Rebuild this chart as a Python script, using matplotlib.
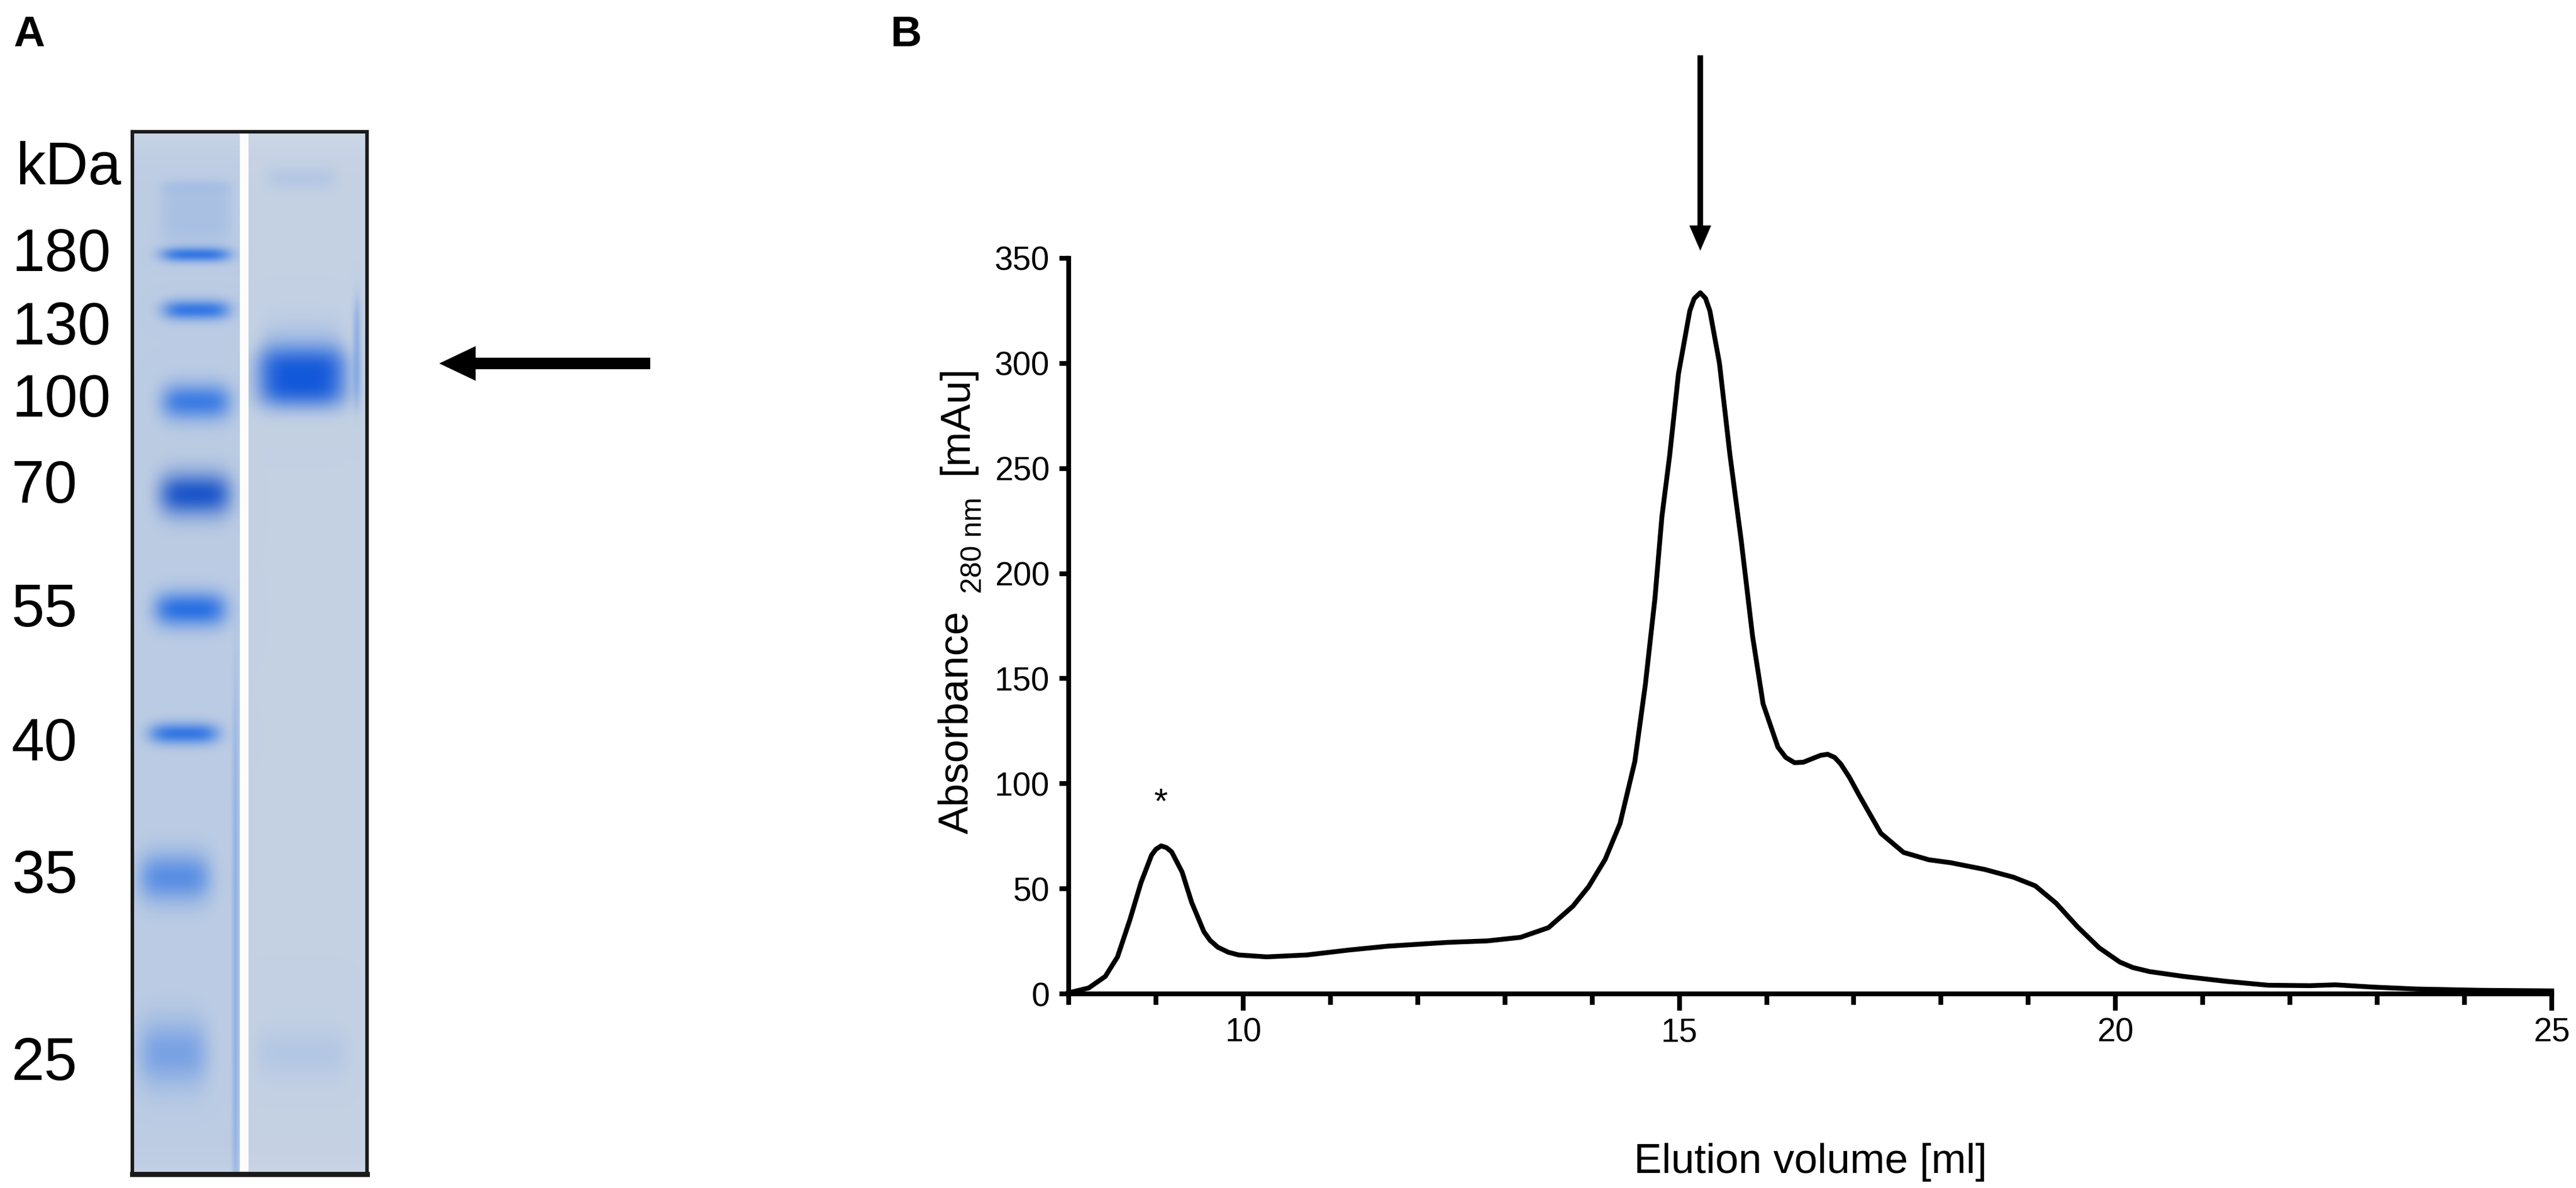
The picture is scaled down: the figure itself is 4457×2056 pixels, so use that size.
import numpy as np
import matplotlib
matplotlib.use('Agg')
import matplotlib.pyplot as plt
from matplotlib.patches import FancyArrow

plt.rcParams['font.family'] = ['Liberation Sans', 'DejaVu Sans']

# Панель B: профиль элюции
elution_ml = [8.0, 8.23, 8.42, 8.56, 8.70, 8.83, 8.95, 9.0, 9.06, 9.12, 9.18, 9.30,
              9.41, 9.55, 9.62, 9.71, 9.83, 9.95, 10.27, 10.73, 11.2, 11.66, 12.35,
              12.8, 13.18, 13.5, 13.78, 13.96, 14.15, 14.32, 14.49, 14.61, 14.72,
              14.80, 14.89, 14.99, 15.12, 15.17, 15.24, 15.30, 15.35, 15.46, 15.58,
              15.71, 15.84, 15.96, 16.13, 16.22, 16.32, 16.42, 16.51, 16.62, 16.70,
              16.78, 16.85, 16.95, 17.06, 17.31, 17.57, 17.86, 18.11, 18.5, 18.83,
              19.08, 19.32, 19.56, 19.81, 20.05, 20.2, 20.39, 20.78, 21.26, 21.75,
              22.23, 22.52, 22.96, 23.45, 24.17, 25.0]
absorbance_mau = [0.5, 2.8, 8.3, 17.6, 35, 53, 66, 68.8, 70.4, 69.6, 67.6, 58,
                  43.5, 29.6, 25.5, 22.2, 19.8, 18.5, 17.6, 18.5, 20.8, 22.7, 24.5,
                  25.2, 26.9, 31.5, 41.7, 51, 64, 81, 110.6, 147, 188,
                  227, 256.5, 295, 325, 330.8, 333.6, 331, 325, 300, 256.5,
                  215.5, 170, 138, 117.4, 112.5, 110, 110.2, 111.7, 113.5, 114,
                  112.5, 109.4, 103, 94.6, 76.4, 67.3, 63.8, 62.4, 59.2, 55.5,
                  51.4, 43.1, 32.1, 22, 15.1, 12.5, 10.6, 8.3, 6.0, 4.1,
                  3.9, 4.3, 3.2, 2.3, 1.7, 1.4]

x_major = [10, 15, 20, 25]
x_all = list(range(8, 26))
y_ticks = [0, 50, 100, 150, 200, 250, 300, 350]

# Панель A: маркер и образец
marker_kda = ['180', '130', '100', '70', '55', '40', '35', '25']
marker_label_base = [469, 596, 721, 870, 1084, 1316, 1545, 1869]  # px, baseline

W, H, DPI = 4457, 2056, 200
fig = plt.figure(figsize=(W / DPI, H / DPI), dpi=DPI)


def box(x0, y0, x1, y1):
    return [x0 / W, 1 - y1 / H, (x1 - x0) / W, (y1 - y0) / H]


# ---------- B ----------
ax = fig.add_axes(box(1849, 447, 4415, 1720))
ax.plot(elution_ml, absorbance_mau, color='black', lw=3.0,
        solid_joinstyle='round', clip_on=False, zorder=3)
ax.set_xlim(8, 25)
ax.set_ylim(0, 350)
for s in ['top', 'right']:
    ax.spines[s].set_visible(False)
for s in ['left', 'bottom']:
    ax.spines[s].set_linewidth(3)
ax.set_xticks(x_major)
ax.set_xticks([v for v in x_all if v not in x_major], minor=True)
ax.set_yticks(y_ticks)
ax.tick_params(axis='x', which='major', length=10.5, width=3, labelsize=20.5, pad=4)
ax.tick_params(axis='x', which='minor', length=6.8, width=3)
ax.tick_params(axis='y', length=5.8, width=3, labelsize=20.5, pad=6)

ml = np.array(elution_ml)
mau = np.array(absorbance_mau)
i_peak = int(np.argmax(mau))
i_star = int(np.argmax(np.where(ml < 11, mau, 0)))
ax.text(ml[i_star], mau[i_star] + 20, '*', ha='center', va='center', fontsize=22)
ax.add_patch(FancyArrow(ml[i_peak], mau[i_peak] + 113, 0, -93,
                        width=0.064, head_width=0.25, head_length=12,
                        length_includes_head=True, color='black', lw=0,
                        clip_on=False))

fig.text(1674 / W, 1 - 1443 / H, 'Absorbance', rotation=90, rotation_mode='anchor',
         ha='left', va='baseline', fontsize=26)
fig.text(1698 / W, 1 - 1027 / H, '280 nm', rotation=90, rotation_mode='anchor',
         ha='left', va='baseline', fontsize=18)
fig.text(1674 / W, 1 - 821 / H, '[mAu]', rotation=90, rotation_mode='anchor',
         ha='left', va='baseline', fontsize=26)
fig.text(3132 / W, 1 - 2030 / H, 'Elution volume [ml]', ha='center',
         va='baseline', fontsize=26)

# ---------- A: гель ----------
GW, GH = 406, 1804
yy, xx = np.mgrid[0:GH, 0:GW].astype(float)
img = np.empty((GH, GW, 3))
img[:] = np.array([188, 204, 227]) / 255
img[:, 200:] = np.array([196, 209, 227]) / 255
top = np.exp(-yy / 40.0)[..., None]
img = img * (1 - 0.5 * top) + np.array([214, 221, 233]) / 255 * 0.5 * top
bottom = np.exp(-(GH - yy) / 25.0)[..., None]
img = img * (1 - 0.35 * bottom) + np.array([214, 221, 233]) / 255 * 0.35 * bottom


def add_band(img, yc, xc, hw, sy, a, col, px=6, py=2):
    prof = a * np.exp(-np.abs((xx - xc) / hw) ** px) * np.exp(-0.5 * np.abs((yy - yc) / sy) ** py)
    prof = prof[..., None]
    return img * (1 - prof) + np.array(col) / 255 * prof


blue = [30, 105, 228]
# faint smear at top of marker lane
img = add_band(img, 140, 110, 62, 45, 0.12, blue, py=4)
img = add_band(img, 95, 110, 62, 8, 0.08, blue)
# marker bands: y, x-center, half-width, sigma, alpha
marker_bands = [(212, 109, 60, 9, 0.85), (308, 110, 58, 12, 0.85),
                (467, 110, 60, 22, 0.8), (627, 108, 62, 26, 0.95),
                (826, 100, 62, 21, 0.92), (1041, 89, 60, 13, 0.85),
                (1290, 73, 62, 30, 0.62), (1594, 70, 60, 40, 0.42)]
for yc, xc, hw, sy, a in marker_bands:
    col = [20, 80, 200] if yc == 627 else blue
    img = add_band(img, yc, xc, hw, sy, a, col, px=4)
# blue streak along lane edge
img = add_band(img, 1450, 178, 6, 420, 0.25, blue, px=2, py=4)
# sample lane
img = add_band(img, 385, 293, 70, 35, 0.25, blue, py=2)
img = add_band(img, 425, 293, 76, 40, 1.0, [18, 88, 218], px=4, py=3)
img = add_band(img, 380, 388, 7, 80, 0.3, blue, px=2, py=4)
img = add_band(img, 80, 293, 60, 14, 0.1, blue)
img = add_band(img, 1594, 293, 80, 30, 0.1, blue)
# white gap between lanes
img[:, 186:201] = 0.99
img = np.clip(img, 0, 1)

ax_gel = fig.add_axes(box(229, 228, 635, 2032))
ax_gel.imshow(img, extent=(0, GW, GH, 0), aspect='auto', interpolation='bilinear')
ax_gel.set_xticks([])
ax_gel.set_yticks([])
for s in ax_gel.spines.values():
    s.set_linewidth(2.2)
    s.set_color('#1a1a1a')
ax_gel.spines['bottom'].set_linewidth(3.2)
ax_gel.add_patch(FancyArrow(896, 401, -365, 0, width=20, head_width=60,
                            head_length=63, length_includes_head=True,
                            color='black', lw=0, clip_on=False))

fig.text(27 / W, 1 - 319 / H, 'kDa', fontsize=37, ha='left', va='baseline')
for lab, base in zip(marker_kda, marker_label_base):
    fig.text(20 / W, 1 - base / H, lab, fontsize=37, ha='left', va='baseline')

fig.text(23 / W, 1 - 80 / H, 'A', fontsize=27, fontweight='bold', va='baseline')
fig.text(1541 / W, 1 - 80 / H, 'B', fontsize=27, fontweight='bold', va='baseline')

fig.savefig('out.png', dpi=DPI)
